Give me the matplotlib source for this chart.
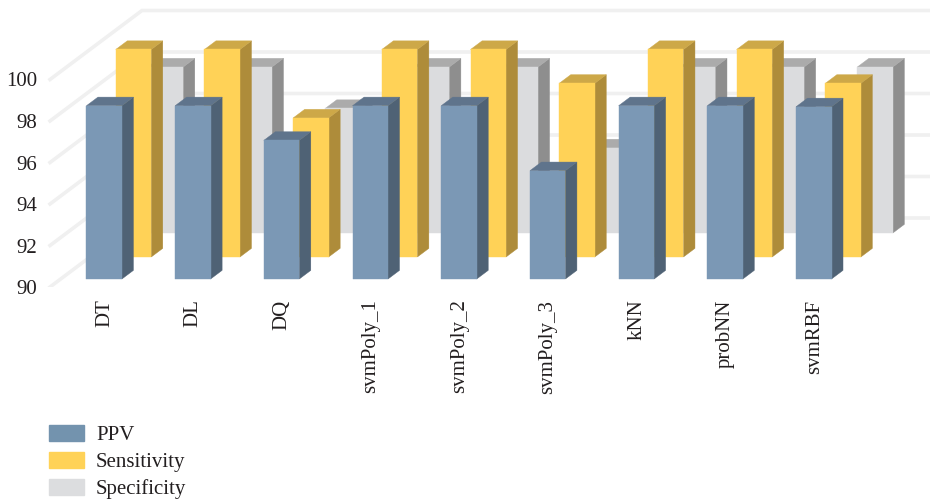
import matplotlib
matplotlib.use("Agg")
import matplotlib.pyplot as plt
from matplotlib.patches import Patch
import numpy as np

plt.rcParams['font.family'] = ['Liberation Serif', 'DejaVu Serif']

categories = ['DT', 'DL', 'DQ', 'svmPoly_1', 'svmPoly_2', 'svmPoly_3', 'kNN', 'probNN', 'svmRBF']
ppv = [98.35, 98.35, 96.68, 98.35, 98.35, 95.22, 98.35, 98.35, 98.3]
sensitivity = [100, 100, 96.7, 100, 100, 98.37, 100, 100, 98.37]
specificity = [98, 98, 96, 98, 98, 94.1, 98, 98, 98]
yticks = [90, 92, 94, 96, 98, 100]

# oblique projection: how far the back wall is shifted, in data units
BACK_X = 92 / 88.7
BACK_Y = 69 / 20.75
BAR_W = 0.4
BAR_D = 0.125


def project(x, y, d):
    return x + d * BACK_X, y + d * BACK_Y


def draw_bar(ax, x, value, depth, front, top, side):
    x0, x1 = x - BAR_W / 2, x + BAR_W / 2
    d0, d1 = depth, depth + BAR_D
    faces = [
        ([(x1, 90, d0), (x1, 90, d1), (x1, value, d1), (x1, value, d0)], side),
        ([(x0, value, d0), (x1, value, d0), (x1, value, d1), (x0, value, d1)], top),
        ([(x0, 90, d0), (x1, 90, d0), (x1, value, d0), (x0, value, d0)], front),
    ]
    for corners, color in faces:
        pts = np.array([project(*c) for c in corners])
        ax.fill(pts[:, 0], pts[:, 1], color=color, lw=0.3, zorder=3)


fig = plt.figure(figsize=(9.3, 5), dpi=100)
ax = fig.add_axes([40 / 930, 213 / 500, 890 / 930, 287 / 500])

# walls: left side runs back from the front plane, then along the back
left = (50 - 93.5) / 88.7
right = (930 - 93.5) / 88.7
for v in yticks:
    xa, ya = project(left, v, 0)
    xb, yb = project(left, v, 1)
    ax.plot([xa, xb, right], [ya, yb, yb], color='#f0f0f0', lw=2.6,
            solid_joinstyle='miter', zorder=1)

series = [
    (specificity, 0.783, '#dbdcde', '#ababab', '#8e8e8e'),
    (sensitivity, 0.435, '#ffd257', '#cda848', '#ae8c3a'),
    (ppv, 0.116, '#7b98b5', '#5f748c', '#4f6275'),
]
for values, depth, front, top, side in series:
    for i, v in enumerate(values):
        draw_bar(ax, i, v, depth, front, top, side)

ax.set_xlim((40 - 93.5) / 88.7, right)
ax.set_ylim(90, 90 + 287 / 20.75)
ax.set_xticks(np.arange(len(categories)) + 0.125)
ax.set_xticklabels(categories, rotation=90, fontsize=15, color='#231f20')
ax.set_yticks(yticks)
ax.set_yticklabels(yticks, fontsize=15, color='#231f20')
ax.tick_params(axis='x', length=0, pad=9)
ax.tick_params(axis='y', length=0, pad=2)
for spine in ax.spines.values():
    spine.set_visible(False)
ax.patch.set_alpha(0)

handles = [Patch(color='#7393ae', label='PPV'),
           Patch(color='#ffd257', label='Sensitivity'),
           Patch(color='#dcdddf', label='Specificity')]
fig.legend(handles=handles, loc='lower left', bbox_to_anchor=(49 / 930, 1 / 500),
           frameon=False, fontsize=15, labelcolor='#231f20', borderpad=0, borderaxespad=0,
           handlelength=1.68, handleheight=0.77, handletextpad=0.58, labelspacing=0.33)

fig.savefig('out.png', dpi=100)
